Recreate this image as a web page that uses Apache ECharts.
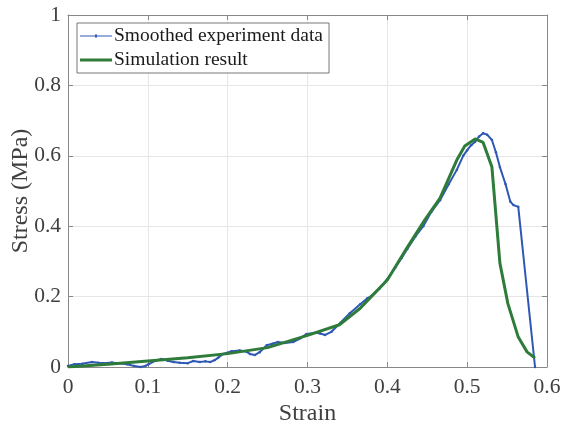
<!DOCTYPE html>
<html><head><meta charset="utf-8">
<script src="https://cdn.jsdelivr.net/npm/echarts@6/dist/echarts.min.js"></script>
<style>html,body{margin:0;padding:0;background:#fff}#c{width:561px;height:427px}</style>
</head><body><div id="c"></div>
<script>
const expStrain = [0,0.008,0.018,0.03,0.038,0.045,0.055,0.061,0.074,0.083,0.091,0.097,0.101,0.11,0.117,0.125,0.132,0.14,0.15,0.157,0.165,0.172,0.178,0.184,0.188,0.194,0.205,0.215,0.222,0.228,0.234,0.24,0.249,0.256,0.263,0.272,0.282,0.29,0.299,0.31,0.316,0.322,0.33,0.341,0.353,0.366,0.375,0.382,0.39,0.4,0.41,0.418,0.425,0.435,0.445,0.455,0.466,0.477,0.487,0.495,0.5,0.505,0.51,0.515,0.52,0.525,0.531,0.536,0.541,0.548,0.554,0.558,0.564,0.585];
const expStress = [0.003,0.008,0.009,0.014,0.012,0.011,0.013,0.011,0.008,0.003,0.0,0.003,0.008,0.018,0.023,0.018,0.014,0.012,0.011,0.017,0.014,0.016,0.014,0.02,0.026,0.037,0.045,0.047,0.045,0.037,0.034,0.042,0.062,0.066,0.071,0.068,0.071,0.08,0.094,0.097,0.095,0.091,0.1,0.125,0.153,0.178,0.195,0.205,0.222,0.25,0.283,0.31,0.335,0.37,0.4,0.44,0.474,0.52,0.56,0.6,0.616,0.63,0.64,0.655,0.664,0.66,0.645,0.61,0.568,0.52,0.47,0.46,0.455,0.0];
const simStrain = [0,0.05,0.1,0.15,0.2,0.25,0.3,0.34,0.366,0.382,0.4,0.425,0.447,0.466,0.487,0.497,0.51,0.52,0.531,0.541,0.551,0.564,0.575,0.585];
const simStress = [0,0.008,0.017,0.026,0.038,0.055,0.09,0.12,0.167,0.205,0.247,0.34,0.418,0.48,0.588,0.628,0.648,0.638,0.568,0.295,0.18,0.085,0.043,0.025];
const xTicks = [0,0.1,0.2,0.3,0.4,0.5,0.6];
const yTicks = [0,0.2,0.4,0.6,0.8,1];

const font = 'Liberation Serif';
const txt = '#404040';
const blue = '#2f58b5', green = '#2e7b3a';
const chart = echarts.init(document.getElementById('c'), null, {renderer:'canvas'});
const axisCommon = {
  axisLine:{show:true,onZero:false,lineStyle:{color:'#888',width:1}},
  axisTick:{show:true,inside:true,length:5,lineStyle:{color:'#888'}},
  splitLine:{show:false}
};
chart.setOption({
  animation:false,
  grid:{left:68,right:14,top:15,bottom:60,containLabel:false,outerBoundsMode:'none'},
  legend:{
    orient:'vertical',left:77,top:23,itemWidth:32,itemHeight:3,itemGap:4,
    padding:[3,6,3,3],
    backgroundColor:'#fff',borderColor:'#777',borderWidth:1,borderRadius:0,
    textStyle:{fontFamily:font,fontSize:19.5,color:'#1a1a1a',padding:[0,0,0,-3]},
    data:[
      {name:'Smoothed experiment data',icon:'path://M0,1H32V2H0ZM15,0H17V3H15Z'},
      {name:'Simulation result',icon:'path://M0,0H32V3H0Z'}
    ]
  },
  xAxis:[
    Object.assign({type:'value',min:xTicks[0],max:xTicks[xTicks.length-1],interval:0.1,position:'bottom',
      name:'Strain',nameLocation:'middle',nameGap:35,nameMoveOverlap:false,
      nameTextStyle:{fontFamily:font,fontSize:24,color:txt},
      axisLabel:{fontFamily:font,fontSize:21.5,color:txt,margin:9},
    },axisCommon,{splitLine:{show:true,lineStyle:{color:'#e6e6e6'}}}),
    Object.assign({type:'value',min:0,max:0.6,interval:0.1,position:'top',axisLabel:{show:false}},axisCommon)
  ],
  yAxis:[
    Object.assign({type:'value',min:yTicks[0],max:yTicks[yTicks.length-1],interval:0.2,position:'left',
      name:'Stress (MPa)',nameLocation:'middle',nameGap:35,nameMoveOverlap:false,
      nameTextStyle:{fontFamily:font,fontSize:24,color:txt},
      axisLabel:{fontFamily:font,fontSize:21.5,color:txt,margin:7},
    },axisCommon,{splitLine:{show:true,lineStyle:{color:'#e6e6e6'}}}),
    Object.assign({type:'value',min:0,max:1,interval:0.2,position:'right',axisLabel:{show:false}},axisCommon)
  ],
  series:[
    {name:'Smoothed experiment data',type:'line',xAxisIndex:0,yAxisIndex:0,
     data:expStrain.map((x,i)=>[x,expStress[i]]),
     symbol:'circle',symbolSize:2.5,showSymbol:true,
     itemStyle:{color:blue},lineStyle:{color:blue,width:2},z:2},
    {name:'Simulation result',type:'line',xAxisIndex:0,yAxisIndex:0,
     data:simStrain.map((x,i)=>[x,simStress[i]]),
     symbol:'none',itemStyle:{color:green},lineStyle:{color:green,width:3},z:3}
  ]
});
</script></body></html>
